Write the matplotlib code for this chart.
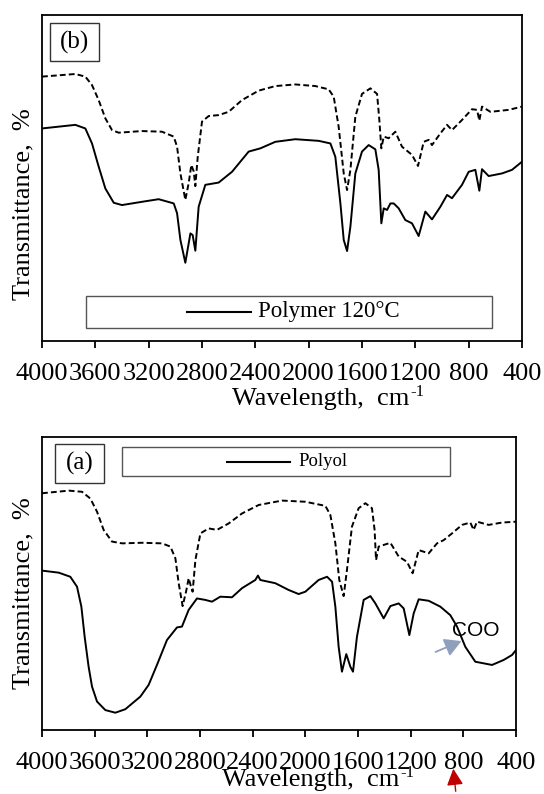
import matplotlib
matplotlib.use('Agg')
import matplotlib.pyplot as plt
from matplotlib.patches import Rectangle
from matplotlib.lines import Line2D

plt.rcParams['font.family'] = ['Liberation Serif', 'DejaVu Serif']

# panel (b): polymer 120 C, wavenumber vs relative transmittance
b_dash_x = [4000, 3750, 3675, 3625, 3575, 3525, 3475, 3425, 3250, 3100, 3012, 2987, 2962, 2925,
            2900, 2880, 2862, 2850, 2832, 2800, 2750, 2675, 2600, 2500, 2375, 2250, 2100, 1950,
            1850, 1812, 1775, 1737, 1712, 1687, 1650, 1600, 1537, 1487, 1470, 1455, 1437, 1400,
            1350, 1300, 1225, 1180, 1137, 1100, 1075, 1012, 962, 925, 850, 775, 737, 720, 700,
            637, 500, 400]
b_dash_y = [81.1, 81.9, 81.1, 78.5, 73.9, 68.3, 64.7, 63.9, 64.4, 64.2, 62.7, 59.6, 51.4, 43.3,
            48.4, 54.0, 52.0, 47.5, 56.5, 67.3, 69.0, 69.3, 70.3, 73.9, 76.8, 78.2, 78.7, 78.2,
            77.2, 74.9, 65.7, 51.4, 46.3, 52.5, 68.8, 75.8, 77.5, 75.8, 67.8, 59.1, 62.7, 62.2,
            64.2, 59.6, 57.1, 53.7, 61.1, 61.7, 60.1, 63.7, 66.3, 64.7, 67.8, 71.1, 70.9, 67.6,
            71.9, 70.3, 70.9, 71.9]
b_solid_x = [4000, 3750, 3675, 3625, 3575, 3525, 3462, 3400, 3250, 3125, 3012, 2987, 2962, 2925,
             2887, 2870, 2850, 2825, 2775, 2675, 2575, 2450, 2362, 2250, 2100, 1925, 1837, 1800,
             1762, 1737, 1712, 1687, 1650, 1600, 1550, 1500, 1475, 1455, 1437, 1412, 1387, 1362,
             1325, 1275, 1225, 1175, 1125, 1075, 1012, 962, 925, 850, 800, 750, 720, 700, 650,
             550, 475, 400]
b_solid_y = [65.2, 66.3, 65.2, 60.6, 53.5, 46.8, 42.4, 41.7, 42.7, 43.5, 42.2, 39.2, 31.0, 24.0,
             33.0, 32.5, 27.7, 41.2, 47.9, 48.6, 51.9, 58.1, 59.1, 61.1, 61.9, 61.4, 60.6, 56.5,
             42.2, 31.0, 27.6, 35.1, 51.4, 58.1, 60.1, 58.8, 52.5, 36.1, 40.7, 40.2, 42.2, 42.2,
             40.7, 37.1, 36.1, 32.2, 39.7, 37.3, 41.2, 44.8, 43.8, 47.9, 51.9, 52.5, 46.1, 52.7,
             50.6, 51.4, 52.5, 55.0]

# panel (a): polyol
a_dash_x = [4000, 3797, 3696, 3633, 3582, 3532, 3468, 3392, 3241, 3089, 3025, 2987, 2962, 2932,
            2906, 2886, 2868, 2856, 2835, 2797, 2734, 2671, 2582, 2481, 2354, 2177, 2000, 1848,
            1810, 1772, 1742, 1709, 1684, 1646, 1595, 1544, 1494, 1474, 1463, 1443, 1354, 1291,
            1228, 1185, 1139, 1063, 1000, 949, 886, 810, 747, 722, 696, 608, 506, 400]
a_dash_y = [80.8, 81.7, 81.3, 79.0, 74.5, 68.3, 64.3, 63.7, 63.9, 63.7, 62.6, 58.6, 50.1, 42.3,
            47.2, 51.8, 48.9, 47.2, 58.0, 67.1, 68.8, 68.3, 70.5, 73.9, 76.8, 78.3, 77.9, 76.5,
            73.4, 63.7, 51.2, 45.7, 54.6, 69.4, 75.7, 77.4, 75.7, 68.3, 58.0, 62.6, 63.9, 59.2,
            57.4, 53.5, 61.4, 60.3, 63.7, 64.8, 67.1, 70.0, 70.8, 68.3, 71.1, 70.0, 70.8, 71.1]
a_solid_x = [4000, 3873, 3785, 3734, 3701, 3676, 3646, 3620, 3582, 3519, 3443, 3367, 3253, 3190,
             3127, 3051, 2975, 2937, 2886, 2823, 2760, 2709, 2646, 2557, 2481, 2380, 2360, 2342,
             2228, 2127, 2051, 2000, 1899, 1835, 1797, 1772, 1747, 1722, 1689, 1658, 1638, 1608,
             1557, 1506, 1468, 1405, 1354, 1291, 1253, 1210, 1177, 1139, 1063, 975, 899, 848,
             785, 709, 582, 494, 430, 400]
a_solid_y = [54.4, 53.7, 52.3, 48.9, 42.1, 31.8, 21.6, 14.8, 9.7, 6.8, 5.9, 7.1, 11.4, 15.4,
             22.2, 30.7, 35.0, 35.3, 41.0, 44.9, 44.4, 43.8, 45.5, 45.3, 48.4, 51.2, 52.7, 51.2,
             50.1, 47.8, 46.4, 47.2, 51.2, 52.3, 50.6, 42.1, 28.4, 19.9, 25.9, 21.6, 19.9, 31.8,
             44.4, 45.7, 43.2, 38.1, 42.3, 43.2, 41.5, 32.4, 39.8, 44.6, 44.1, 42.1, 39.2, 35.3,
             28.4, 23.3, 22.2, 23.9, 25.6, 27.3]

x_ticks = [4000, 3600, 3200, 2800, 2400, 2000, 1600, 1200, 800, 400]

W, H = 544, 794
fig = plt.figure(figsize=(W / 100, H / 100), dpi=100)


def fx(px):
    return px / W


def fy(py):
    return 1 - py / H


def make_axes(l, r, t, b, pad):
    ax = fig.add_axes([fx(l), fy(b), fx(r) - fx(l), fy(t) - fy(b)])
    ax.set_xlim(4000, 400)
    ax.set_ylim(0, 100)
    ax.set_yticks([])
    ax.set_xticks(x_ticks)
    ax.tick_params(axis='x', direction='out', length=5, width=1.3, labelsize=19, pad=pad)
    for s in ax.spines.values():
        s.set_linewidth(1.3)
    return ax


def box_text(l, r, t, b, txt, size):
    fig.patches.append(Rectangle((fx(l), fy(b)), fx(r) - fx(l), fy(t) - fy(b),
                                 transform=fig.transFigure, fill=False,
                                 edgecolor='#333333', lw=1.0))
    fig.text(fx((l + r) / 2), fy((t + b) / 2), txt, fontsize=size,
             ha='center', va='center')


def legend_box(l, r, t, b, x0, x1, tx, label, size):
    fig.patches.append(Rectangle((fx(l), fy(b)), fx(r) - fx(l), fy(t) - fy(b),
                                 transform=fig.transFigure, fill=False,
                                 edgecolor='#555555', lw=1.0))
    yc = fy((t + b) / 2)
    fig.lines.append(Line2D([fx(x0), fx(x1)], [yc, yc], transform=fig.transFigure,
                            color='black', lw=1.5))
    fig.text(fx(tx), yc, label, fontsize=size, ha='left', va='center')


def x_label(x_end, y_base):
    fig.text(fx(x_end), fy(y_base), 'Wavelength,  cm', fontsize=19,
             ha='right', va='baseline')
    fig.text(fx(x_end + 1), fy(y_base - 9), '-1', fontsize=12,
             ha='left', va='baseline')


dash = (0, (3, 1.6))

# top panel (b)
ax1 = make_axes(42, 522, 15, 341, 11)
ax1.plot(b_dash_x, b_dash_y, color='black', lw=1.4, linestyle=dash)
ax1.plot(b_solid_x, b_solid_y, color='black', lw=1.4)
box_text(50, 99, 23, 61, '(b)', 18)
legend_box(86, 492, 296, 328, 187, 251, 258, 'Polymer 120°C', 16.5)
x_label(409, 405)
fig.text(fx(23), fy(204), 'Transmittance,  %', fontsize=19, rotation=90,
         ha='center', va='center')

# bottom panel (a)
ax2 = make_axes(42, 516, 437, 730, 11)
ax2.plot(a_dash_x, a_dash_y, color='black', lw=1.4, linestyle=dash)
ax2.plot(a_solid_x, a_solid_y, color='black', lw=1.4)
box_text(55, 104, 444, 483, '(a)', 18)
legend_box(122, 450, 447, 476, 227, 290, 298, 'Polyol', 13.5)
x_label(399, 786)
fig.text(fx(23), fy(593), 'Transmittance,  %', fontsize=19, rotation=90,
         ha='center', va='center')

# COO label and arrows
fig.text(fx(476), fy(631), 'COO', fontsize=15, family='Liberation Sans',
         ha='center', va='center')
ax2.annotate('', xy=(fx(464), fy(640)), xycoords='figure fraction',
             xytext=(fx(433), fy(653)), textcoords='figure fraction',
             arrowprops=dict(arrowstyle='-|>,head_length=0.5,head_width=0.28',
                             color='#8ea0bb', lw=1.3, mutation_scale=20),
             annotation_clip=False)
ax2.annotate('', xy=(fx(453), fy(766)), xycoords='figure fraction',
             xytext=(fx(456), fy(794)), textcoords='figure fraction',
             arrowprops=dict(arrowstyle='-|>,head_length=0.5,head_width=0.25',
                             color='#c00000', lw=1.0, mutation_scale=20),
             annotation_clip=False)

fig.savefig('out.png', dpi=100)
